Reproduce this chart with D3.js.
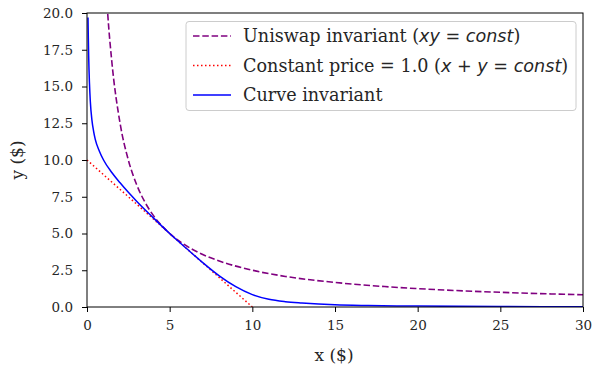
<!DOCTYPE html>
<html><head><meta charset="utf-8">
<script src="https://cdn.jsdelivr.net/npm/d3@7"></script>
<style>body{margin:0;background:#fff}</style>
</head><body>
<svg id="c" width="598" height="381"></svg>
<script>
// Data
const uniswapX = [1.0, 1.25, 1.5, 2, 2.5, 3, 3.5, 4, 5, 6, 7, 8, 10, 12, 15, 18, 20, 25, 30];
const uniswapY = [25, 20, 16.7, 12.5, 10, 8.33, 7.14, 6.25, 5.0, 4.17, 3.57, 3.13, 2.5, 2.08, 1.67, 1.39, 1.25, 1.0, 0.83];
const priceX = [0, 10];
const priceY = [10, 0];
const curveX = [0.06, 0.08, 0.1, 0.15, 0.2, 0.3, 0.4, 0.5, 0.75, 1, 1.5, 2, 2.5, 3, 4, 5, 6, 7, 8, 9, 10, 11, 12, 13, 14, 15, 17, 20, 25, 30];
const curveY = [19.7, 18.3, 17.1, 15.2, 14.0, 12.7, 11.95, 11.4, 10.6, 10.0, 9.15, 8.45, 7.8, 7.2, 6.08, 5.0, 4.0, 3.02, 2.12, 1.38, 0.84, 0.52, 0.36, 0.27, 0.2, 0.15, 0.1, 0.06, 0.03, 0.02];
const xTicks = [0, 5, 10, 15, 20, 25, 30];
const yTicks = [0, 2.5, 5, 7.5, 10, 12.5, 15, 17.5, 20];

const svg = d3.select('#c');
const L = 87, R = 583, T = 13, B = 307;
const x = d3.scaleLinear().domain([0, 30]).range([L, R]);
const y = d3.scaleLinear().domain([0, 20]).range([B, T]);
const serif = "'DejaVu Serif', serif";
const sans = "'DejaVu Sans', sans-serif";

svg.append('defs').append('clipPath').attr('id', 'clip')
  .append('rect').attr('x', L).attr('y', T).attr('width', R - L).attr('height', B - T);

const g = svg.append('g').attr('clip-path', 'url(#clip)');

g.append('path').datum(uniswapX.map((v, i) => [v, uniswapY[i]]))
  .attr('d', d3.line().x(d => x(d[0])).y(d => y(d[1])).curve(d3.curveMonotoneX)).attr('fill', 'none')
  .attr('stroke', '#800080').attr('stroke-width', 1.6).attr('stroke-dasharray', '6.5,2.8');
g.append('path').datum(priceX.map((v, i) => [v, priceY[i]]))
  .attr('d', d3.line().x(d => x(d[0])).y(d => y(d[1]))).attr('fill', 'none')
  .attr('stroke', '#ff0000').attr('stroke-width', 1.5).attr('stroke-dasharray', '1.5,2.5');
g.append('path').datum(curveX.map((v, i) => [v, curveY[i]]))
  .attr('d', d3.line().x(d => x(d[0])).y(d => y(d[1])).curve(d3.curveMonotoneX)).attr('fill', 'none')
  .attr('stroke', '#0000ff').attr('stroke-width', 1.5);

// axes
const xa = svg.append('g').attr('transform', `translate(0,${B})`)
  .call(d3.axisBottom(x).tickValues(xTicks).tickFormat(d3.format('d')).tickSize(5).tickPadding(8));
const ya = svg.append('g').attr('transform', `translate(${L},0)`)
  .call(d3.axisLeft(y).tickValues(yTicks).tickFormat(d3.format('.1f')).tickSize(5).tickPadding(9));
[xa, ya].forEach(a => {
  a.select('.domain').remove();
  a.selectAll('line').attr('stroke', '#000').attr('stroke-width', 1);
  a.selectAll('text').attr('font-family', serif).attr('font-size', 13.5).attr('fill', '#262626');
});
svg.append('rect').attr('x', L).attr('y', T).attr('width', R - L).attr('height', B - T)
  .attr('fill', 'none').attr('stroke', '#000').attr('stroke-width', 1);

svg.append('text').attr('x', 334).attr('y', 361).attr('text-anchor', 'middle')
  .attr('font-family', serif).attr('font-size', 17).attr('fill', '#262626').text('x ($)');
svg.append('text').attr('transform', `translate(23,${(T + B) / 2}) rotate(-90)`).attr('text-anchor', 'middle')
  .attr('font-family', serif).attr('font-size', 17).attr('fill', '#262626').text('y ($)');

// legend
const lg = svg.append('g');
lg.append('rect').attr('x', 186).attr('y', 21.5).attr('width', 390).attr('height', 89).attr('rx', 3)
  .attr('fill', '#fff').attr('fill-opacity', 0.85).attr('stroke', '#cccccc').attr('stroke-width', 1);
const rows = [
  {c: '#800080', dash: '6.5,2.8', parts: [['Uniswap invariant (', serif, 'normal'], ['xy', sans, 'italic'], [' = ', sans, 'normal'], ['const', sans, 'italic'], [')', serif, 'normal']]},
  {c: '#ff0000', dash: '1.5,2.5', parts: [['Constant price = 1.0 (', serif, 'normal'], ['x', sans, 'italic'], [' + ', sans, 'normal'], ['y', sans, 'italic'], [' = ', sans, 'normal'], ['const', sans, 'italic'], [')', serif, 'normal']]},
  {c: '#0000ff', dash: null, parts: [['Curve invariant', serif, 'normal']]}
];
const rowY = [36, 65.5, 95];
rows.forEach((r, i) => {
  const yy = rowY[i];
  lg.append('line').attr('x1', 193).attr('x2', 231).attr('y1', yy).attr('y2', yy)
    .attr('stroke', r.c).attr('stroke-width', 1.6).attr('stroke-dasharray', r.dash);
  const t = lg.append('text').attr('x', 243).attr('y', yy + 6).attr('font-size', 17.6).attr('fill', '#262626')
    .attr('xml:space', 'preserve').style('white-space', 'pre');
  r.parts.forEach(p => t.append('tspan').attr('font-family', p[1]).attr('font-style', p[2]).text(p[0]));
});
</script>
</body></html>
